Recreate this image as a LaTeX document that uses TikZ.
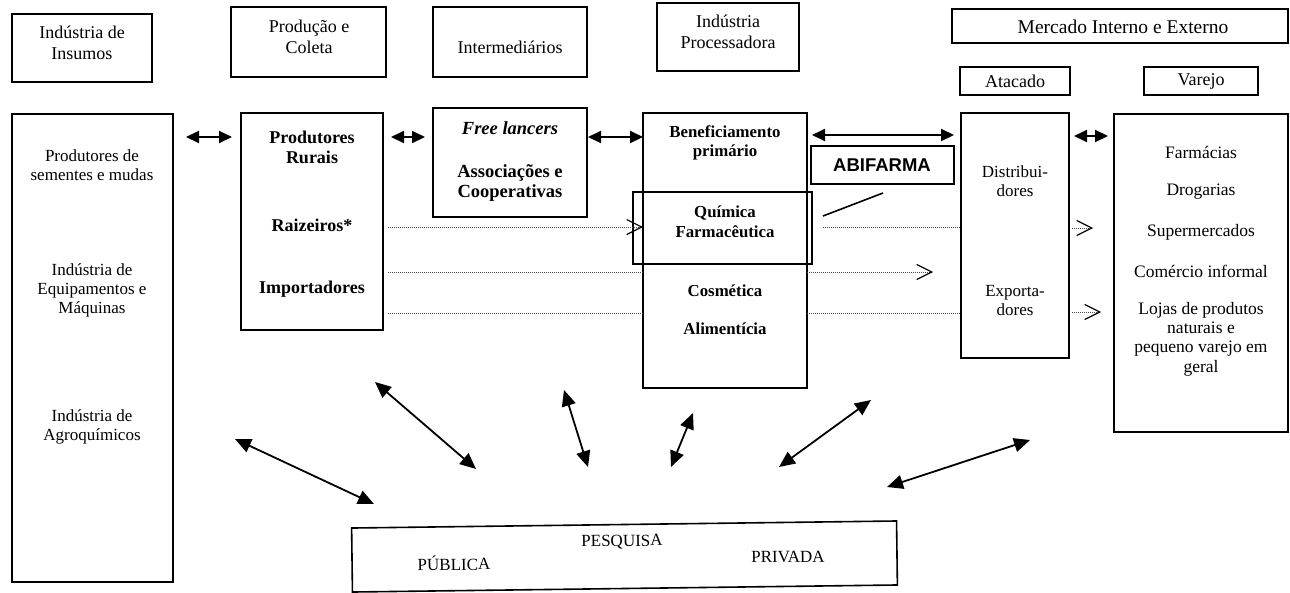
\documentclass[tikz,border=0pt]{standalone}
\usepackage{fontspec}
\setmainfont{Liberation Serif}
\newfontfamily\abifont{Liberation Sans}
\usetikzlibrary{arrows.meta,fit,calc}
\begin{document}
\begin{tikzpicture}[x=1pt,y=-1pt,
  box/.style={draw, line width=1.6pt, inner sep=0pt, outer sep=0pt},
  htxt/.style={align=center, inner sep=0pt, font=\fontsize{18}{20.5}\selectfont},
  txt/.style={align=center, inner sep=0pt, font=\fontsize{17}{19}\selectfont},
  vtxt/.style={align=center, inner sep=0pt, font=\fontsize{17.5}{19.3}\selectfont},
  btxt/.style={align=center, inner sep=0pt, font=\fontsize{18}{20}\selectfont\bfseries},
  ftxt/.style={align=center, inner sep=0pt, font=\fontsize{18.5}{20}\selectfont\bfseries},
  ptxt/.style={align=center, inner sep=0pt, font=\fontsize{16.8}{19.5}\selectfont\bfseries},
  dbl/.style={line width=2pt, {Triangle[length=13pt,width=12pt]}-{Triangle[length=13pt,width=12pt]}},
  diag/.style={line width=1.8pt, {Triangle[length=16pt,width=14pt]}-{Triangle[length=16pt,width=14pt]}},
  dots/.style={dash pattern=on 1.2pt off 0.8pt, line width=0.9pt, black!70},
  barb/.style={-{Straight Barb[length=15pt,width=15pt,line width=1.2pt,color=black]}}
]
\useasboundingbox[fill=white] (0,0) rectangle (1290,592);

% header boxes
\node[box, fit={(12,14) (152,82)}] (h1) {};
\node[box, fit={(231,7) (386,77)}] (h2) {};
\node[box, fit={(433,7) (587,77)}] (h3) {};
\node[box, fit={(657,3) (799,71)}] (h4) {};
\node[box, fit={(952,9) (1288,43)}] (h5) {};
\node[box, fit={(960,67) (1070,95)}] (h6) {};
\node[box, fit={(1144,67) (1258,95)}] (h7) {};

\node[htxt] (h1t) at (82,43) {Indústria de\\Insumos};
\node[htxt] (h2t) at (309,37) {Produção e\\Coleta};
\node[htxt] (h3t) at (510,47) {Intermediários};
\node[htxt] (h4t) at (728,32) {Indústria\\Processadora};
\node[htxt, font=\fontsize{19.5}{22}\selectfont] (h5t) at (1123,27) {Mercado Interno e Externo};
\node[htxt] (h6t) at (1015,81) {Atacado};
\node[htxt] (h7t) at (1201,81) {Varejo};

% main boxes
\node[box, fit={(12,114) (173,582)}] (ind) {};
\node[box, fit={(241,113) (383,330)}] (prod) {};
\node[box, fit={(433,108) (587,217)}] (inter) {};
\node[box, fit={(643,113) (807,388)}] (proc) {};
\node[box, fit={(633,192) (812,264)}] (quim) {};
\node[box, fit={(811,146) (954,184)}] (abif) {};
\node[box, fit={(961,113) (1069,358)}] (dist) {};
\node[box, fit={(1114,114) (1288,432)}] (var) {};
\node[box, minimum width=545pt, minimum height=64pt, rotate=0.74] (pesq) at (624.5,556.5) {};

% texts
\node[txt] (t1) at (92,165) {Produtores de\\sementes e mudas};
\node[txt] (t2) at (92,290) {Indústria de\\Equipamentos e\\Máquinas};
\node[txt] (t3) at (92,427) {Indústria de\\Agroquímicos};

\node[btxt] (t4) at (312,147) {Produtores\\Rurais};
\node[btxt] (t5) at (312,225) {Raizeiros*};
\node[btxt] (t6) at (312,289) {Importadores};

\node[ftxt] (t7) at (510,128) {\itshape Free lancers};
\node[ftxt] (t8) at (510,183) {Associações e\\Cooperativas};

\node[ptxt] (t9) at (725,143) {Beneficiamento\\primário};
\node[ptxt] (t10) at (725,222) {Química\\Farmacêutica};
\node[ptxt] (t11) at (725,291) {Cosmética};
\node[ptxt] (t12) at (725,329) {Alimentícia};

\node[inner sep=0pt, font=\fontsize{18.5}{20}\selectfont\abifont\bfseries] (t13) at (882,165) {ABIFARMA};

\node[txt] (t14) at (1015,181.5) {Distribui-\\dores};
\node[txt] (t15) at (1015,300.5) {Exporta-\\dores};

\node[vtxt] (t16) at (1201,152) {Farmácias};
\node[vtxt] (t17) at (1201,192) {Drogarias};
\node[vtxt] (t18) at (1201,232) {Supermercados};
\node[vtxt] (t19) at (1201,271) {Comércio informal};
\node[vtxt] (t20) at (1201,339) {Lojas de produtos\\naturais e\\pequeno varejo em\\geral};

\node[txt, rotate=0.74] (t21) at (622,542) {PESQUISA};
\node[txt, rotate=0.74] (t22) at (454,563) {PÚBLICA};
\node[txt, rotate=0.74] (t23) at (788,557) {PRIVADA};

% horizontal double arrows
\draw[dbl] ([shift={(13,23)}]ind.north east) -- ([shift={(-9,24)}]prod.north west);
\draw[dbl] ([shift={(8,24)}]prod.north east) -- ([shift={(-8,29)}]inter.north west);
\draw[dbl] ([shift={(1,29)}]inter.north east) -- ([shift={(0,24)}]proc.north west);
\draw[dbl] ([shift={(5,22)}]proc.north east) -- ([shift={(-7,22)}]dist.north west);
\draw[dbl] ([shift={(5,23)}]dist.north east) -- ([shift={(-6,22)}]var.north west);

% dotted flows
\draw[dots, barb] ([shift={(5,114)}]prod.north east) -- ([shift={(0,114)}]proc.north west);
\draw[dots] ([shift={(16,114)}]proc.north east) -- ([shift={(0,114)}]dist.north west);
\coordinate (e1) at ([shift={(24,115)}]dist.north east);
\draw[dots, barb] ([shift={(3,115)}]dist.north east) -- (e1);

\draw[dots] ([shift={(5,159)}]prod.north east) -- ([shift={(0,159)}]proc.north west);
\coordinate (e2) at ([shift={(126,159)}]proc.north east);
\draw[dots, barb] ([shift={(0,159)}]proc.north east) -- (e2);

\draw[dots] ([shift={(5,200)}]prod.north east) -- ([shift={(0,200)}]proc.north west);
\draw[dots] ([shift={(0,200)}]proc.north east) -- ([shift={(0,200)}]dist.north west);
\coordinate (e3) at ([shift={(32,199)}]dist.north east);
\draw[dots, barb] ([shift={(3,199)}]dist.north east) -- (e3);

% ABIFARMA link
\draw[line width=1.6pt] ([shift={(11,24)}]quim.north east) -- ([shift={(72,9)}]abif.south west);

% research arrows
\coordinate (d1a) at (235,439); \coordinate (d1b) at (374,504);
\coordinate (d2a) at (375,382); \coordinate (d2b) at (476,469);
\coordinate (d3a) at (564,390); \coordinate (d3b) at (588,467);
\coordinate (d4a) at (693,413); \coordinate (d4b) at (671,467);
\coordinate (d5a) at (871,400); \coordinate (d5b) at (779,467);
\coordinate (d6a) at (1030,440); \coordinate (d6b) at (887,487);
\draw[diag] (d1a) -- (d1b);
\draw[diag] (d2a) -- (d2b);
\draw[diag] (d3a) -- (d3b);
\draw[diag] (d4a) -- (d4b);
\draw[diag] (d5a) -- (d5b);
\draw[diag] (d6a) -- (d6b);
\end{tikzpicture}
\end{document}
